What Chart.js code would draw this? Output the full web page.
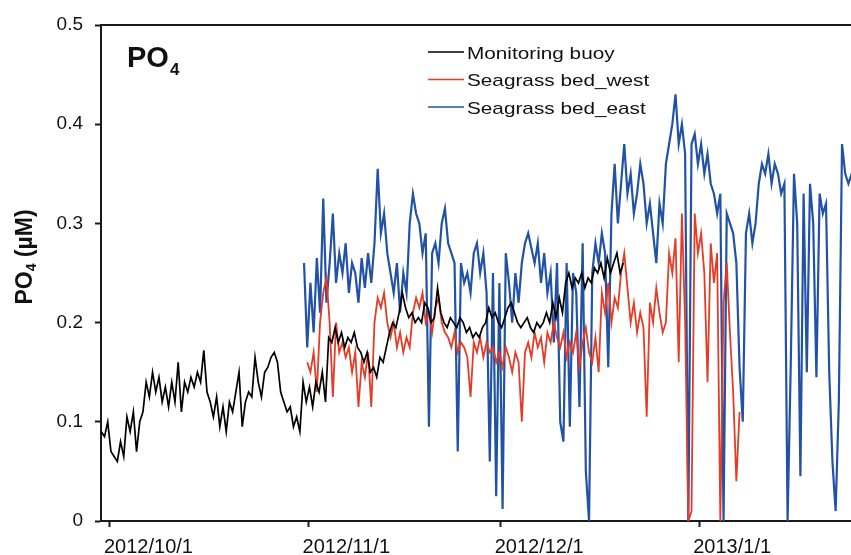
<!DOCTYPE html>
<html>
<head>
<meta charset="utf-8">
<title>PO4</title>
<script src="https://cdn.jsdelivr.net/npm/chart.js@4.4.1/dist/chart.umd.min.js"></script>
<style>
  html, body { margin: 0; padding: 0; background: #fff; }
  #wrap { width: 851px; height: 555px; }
</style>
</head>
<body>
<div id="wrap"><canvas id="myChart" width="851" height="555"></canvas></div>
<script>
// x = days since 2012/10/1, two readings a day
var tickDays = [0, 31, 61, 92];
var tickLabels = ['2012/10/1', '2012/11/1', '2012/12/1', '2013/1/1'];
var seriesNames = ['Monitoring buoy', 'Seagrass bed_west', 'Seagrass bed_east'];
var buoyStart = -1.35, westStart = 30.8, eastStart = 30.3, step = 0.5;

var buoy = [
  0.09,0.085,0.10,0.07,0.065,0.06,0.08,0.065,0.105,0.09,
  0.11,0.07,0.10,0.11,0.14,0.125,0.15,0.13,0.145,0.12,
  0.135,0.115,0.14,0.12,0.16,0.11,0.14,0.13,0.145,0.135,
  0.15,0.14,0.172,0.13,0.12,0.105,0.125,0.095,0.115,0.09,
  0.12,0.11,0.13,0.15,0.095,0.12,0.13,0.125,0.165,0.14,
  0.125,0.15,0.155,0.165,0.17,0.16,0.13,0.12,0.11,0.115,
  0.095,0.105,0.09,0.14,0.12,0.135,0.115,0.14,0.13,0.15,
  0.12,0.185,0.18,0.195,0.18,0.19,0.175,0.185,0.18,0.19,
  0.175,0.17,0.16,0.17,0.15,0.155,0.145,0.165,0.16,0.175,
  0.19,0.2,0.195,0.21,0.23,0.215,0.205,0.21,0.2,0.205,
  0.2,0.22,0.215,0.2,0.205,0.235,0.21,0.2,0.195,0.205,
  0.2,0.195,0.205,0.2,0.19,0.195,0.185,0.19,0.185,0.195,
  0.2,0.215,0.205,0.21,0.2,0.195,0.205,0.215,0.22,0.21,
  0.2,0.195,0.2,0.205,0.195,0.19,0.2,0.195,0.2,0.21,
  0.2,0.22,0.205,0.225,0.21,0.24,0.25,0.235,0.245,0.24,
  0.25,0.235,0.245,0.24,0.255,0.25,0.26,0.245,0.265,0.25,
  0.26,0.27,0.25,0.26
];

var west = [
  0.16,0.15,0.17,0.13,0.2,0.23,0.245,0.2,0.125,0.2,
  0.17,0.18,0.165,0.175,0.15,0.17,0.115,0.16,0.145,0.17,
  0.115,0.2,0.225,0.215,0.23,0.2,0.185,0.2,0.175,0.19,
  0.17,0.185,0.175,0.21,0.225,0.215,0.23,0.2,0.21,0.19,
  0.215,0.225,0.2,0.19,0.185,0.175,0.19,0.17,0.18,0.175,
  0.165,0.125,0.18,0.17,0.185,0.165,0.18,0.17,0.175,0.16,
  0.17,0.155,0.175,0.165,0.15,0.17,0.16,0.1,0.17,0.18,
  0.165,0.19,0.175,0.185,0.16,0.19,0.18,0.2,0.185,0.175,
  0.19,0.165,0.18,0.17,0.19,0.155,0.18,0.195,0.17,0.16,
  0.185,0.15,0.23,0.21,0.24,0.2,0.225,0.215,0.25,0.27,
  0.235,0.2,0.22,0.19,0.21,0.195,0.105,0.22,0.2,0.235,
  0.21,0.19,0.2,0.27,0.25,0.285,0.16,0.31,0.2,0.0,
  0.01,0.31,0.27,0.29,0.25,0.14,0.28,0.24,0.27,0.0,
  0.22,0.26,0.19,0.13,0.04,0.11
];

var east = [
  0.26,0.175,0.24,0.19,0.265,0.21,0.325,0.22,0.26,0.31,
  0.24,0.27,0.25,0.28,0.23,0.26,0.25,0.22,0.265,0.235,
  0.27,0.24,0.28,0.355,0.29,0.31,0.27,0.25,0.23,0.26,
  0.21,0.25,0.23,0.30,0.33,0.31,0.3,0.27,0.29,0.095,
  0.27,0.28,0.26,0.3,0.315,0.28,0.27,0.26,0.07,0.26,
  0.24,0.25,0.23,0.27,0.28,0.25,0.27,0.23,0.06,0.25,
  0.025,0.24,0.012,0.27,0.24,0.2,0.25,0.22,0.26,0.28,
  0.29,0.275,0.26,0.28,0.24,0.27,0.23,0.25,0.18,0.26,
  0.1,0.08,0.26,0.095,0.25,0.23,0.115,0.28,0.05,0.0,
  0.25,0.28,0.26,0.29,0.27,0.155,0.31,0.36,0.3,0.34,
  0.38,0.33,0.35,0.31,0.33,0.36,0.34,0.3,0.32,0.29,
  0.26,0.32,0.3,0.36,0.38,0.4,0.43,0.38,0.4,0.37,
  0.0,0.38,0.39,0.36,0.38,0.35,0.37,0.34,0.33,0.31,
  0.33,0.0,0.31,0.3,0.29,0.26,0.155,0.1,0.29,0.31,
  0.28,0.3,0.34,0.36,0.35,0.37,0.34,0.36,0.35,0.33,
  0.34,0.0,0.16,0.35,0.3,0.045,0.33,0.15,0.34,0.3,
  0.145,0.33,0.31,0.32,0.15,0.06,0.01,0.12,0.38,0.35,
  0.34,0.35
];

var axisColor = '#1a1a1a';
var textColor = '#111111';
var fontFamily = "'Liberation Sans', Arial, Helvetica, sans-serif";

function toPoints(start, values) {
  return values.map(function(v, i) { return {x: start + i * step, y: v}; });
}

// panel title, y title with subscript, legend and the open top frame line
var decor = {
  id: 'decor',
  afterDraw: function(chart) {
    var ctx = chart.ctx, a = chart.chartArea;
    ctx.save();
    ctx.strokeStyle = axisColor;
    ctx.lineWidth = 2;
    ctx.beginPath();
    ctx.moveTo(a.left - 1, a.top);
    ctx.lineTo(a.right, a.top);
    ctx.stroke();

    ctx.fillStyle = textColor;
    ctx.textBaseline = 'alphabetic';
    ctx.textAlign = 'left';
    ctx.font = 'bold 29px ' + fontFamily;
    ctx.fillText('PO', 127, 67);
    var w = ctx.measureText('PO').width;
    ctx.font = 'bold 17px ' + fontFamily;
    ctx.fillText('4', 127 + w + 1, 75);

    // legend
    var rows = [52, 79.5, 107];
    chart.data.datasets.forEach(function(ds, i) {
      ctx.strokeStyle = ds.borderColor;
      ctx.lineWidth = 1.5;
      ctx.beginPath();
      ctx.moveTo(428, rows[i]);
      ctx.lineTo(464, rows[i]);
      ctx.stroke();
      ctx.save();
      ctx.translate(467, rows[i] + 6.5);
      ctx.scale(1.22, 1);
      ctx.fillStyle = textColor;
      ctx.font = '17px ' + fontFamily;
      ctx.fillText(ds.label, 0, 0);
      ctx.restore();
    });

    // y axis title
    ctx.translate(32, 257);
    ctx.rotate(-Math.PI / 2);
    ctx.fillStyle = textColor;
    ctx.font = 'bold 23px ' + fontFamily;
    var p1 = 'PO', p3 = ' (\u00b5M)';
    var w1 = ctx.measureText(p1).width, w3 = ctx.measureText(p3).width;
    ctx.font = 'bold 14px ' + fontFamily;
    var w2 = ctx.measureText('4').width;
    var x0 = -(w1 + w2 + w3) / 2;
    ctx.font = 'bold 23px ' + fontFamily;
    ctx.fillText(p1, x0, 0);
    ctx.fillText(p3, x0 + w1 + w2, 0);
    ctx.font = 'bold 14px ' + fontFamily;
    ctx.fillText('4', x0 + w1, 4);
    ctx.restore();
  }
};

var ctx = document.getElementById('myChart').getContext('2d');
var config = {
  type: 'line',
  data: {
    datasets: [
      { label: seriesNames[0], data: toPoints(buoyStart, buoy), borderColor: '#000000', borderWidth: 1.7 },
      { label: seriesNames[1], data: toPoints(westStart, west), borderColor: '#e63b25', borderWidth: 1.8 },
      { label: seriesNames[2], data: toPoints(eastStart, east), borderColor: '#2152a6', borderWidth: 2.2 }
    ]
  },
  options: {
    responsive: false,
    animation: false,
    devicePixelRatio: 1,
    layout: { padding: { top: 25, right: 0, bottom: 0, left: 0 } },
    elements: { point: { radius: 0 }, line: { tension: 0 } },
    plugins: { legend: { display: false }, tooltip: { enabled: false } },
    scales: {
      x: {
        type: 'linear',
        min: -1.4,
        max: 115.7,
        afterFit: function(s) { s.height = 34; },
        afterBuildTicks: function(s) {
          s.ticks = tickDays.map(function(d) { return {value: d}; });
        },
        border: { color: axisColor, width: 2 },
        grid: { drawOnChartArea: false, tickLength: 6, tickColor: axisColor, tickWidth: 2 },
        ticks: {
          align: 'start',
          labelOffset: -6,
          padding: 8,
          maxRotation: 0,
          color: textColor,
          font: { family: fontFamily, size: 20 },
          callback: function(v) {
            var k = tickDays.indexOf(v);
            return k >= 0 ? tickLabels[k] : '';
          }
        }
      },
      y: {
        min: 0,
        max: 0.5,
        afterFit: function(s) { s.width = 101; },
        border: { color: axisColor, width: 2 },
        grid: { drawOnChartArea: false, tickLength: 6, tickColor: axisColor, tickWidth: 2 },
        ticks: {
          stepSize: 0.1,
          padding: 12,
          color: textColor,
          font: { family: fontFamily, size: 19 },
          callback: function(v) { return v === 0 ? '0' : v.toFixed(1); }
        }
      }
    }
  },
  plugins: [decor]
};
var myChart = new Chart(ctx, config);
</script>
</body>
</html>
